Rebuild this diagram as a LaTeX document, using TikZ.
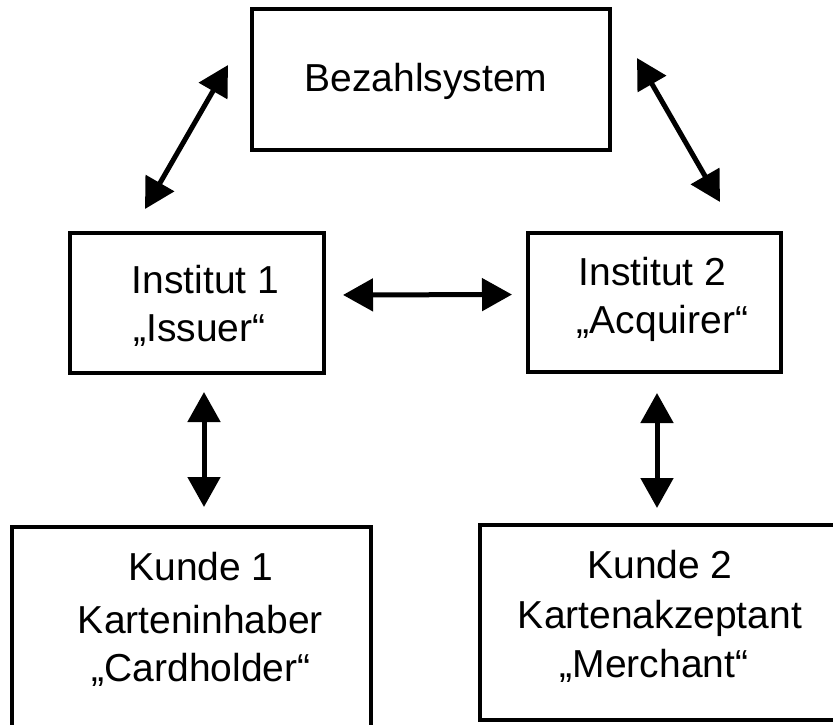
\documentclass[tikz,border=0pt]{standalone}
\usepackage{fontspec}
\setmainfont{Liberation Sans}
\usetikzlibrary{arrows.meta}
\tikzset{
  box/.style={draw=black, line width=4pt, rectangle, inner sep=0pt, outer sep=0pt},
  lbl/.style={anchor=base, inner sep=0pt, font=\fontsize{39}{47}\selectfont},
  arr/.style={line width=5pt, {Triangle[length=30pt,width=32pt]}-{Triangle[length=30pt,width=32pt]}},
}
\begin{document}
\begin{tikzpicture}[x=1pt,y=-1pt]
\useasboundingbox (0,0) rectangle (833,724);
\clip (0,0) rectangle (833,724);
\fill[white] (0,0) rectangle (833,724);
% boxes
\node[box, minimum width=358pt, minimum height=141pt] (B)  at (431,79.5) {};
\node[box, minimum width=254pt, minimum height=140pt] (I1) at (197,303) {};
\node[box, minimum width=253pt, minimum height=139pt] (I2) at (654.5,302.5) {};
\node[box, minimum width=359pt, minimum height=213pt] (K1) at (191.5,633.5) {};
\node[box, minimum width=380pt, minimum height=195pt] (K2) at (670,622.5) {};
% texts
\node[lbl] (Bt) at (426,91) {Bezahlsystem};
\node[lbl] (I1a) at (205.5,293) {Institut 1};
\node[lbl] (I1b) at (199.5,341) {„Issuer“};
\node[lbl] (I2a) at (652.5,285) {Institut 2};
\node[lbl] (I2b) at (662.5,333) {„Acquirer“};
\node[lbl] (K1a) at (201,580) {Kunde 1};
\node[lbl] (K1b) at (200.5,633) {Karteninhaber};
\node[lbl] (K1c) at (201,681) {„Cardholder“};
\node[lbl] (K2a) at (660,578) {Kunde 2};
\node[lbl] (K2b) at (660,628) {Kartenakzeptant};
\node[lbl] (K2c) at (654,677) {„Merchant“};
% arrow end points for the diagonals
\coordinate (a1s) at (228,65);
\coordinate (a1e) at (145,209);
\coordinate (a2s) at (637,58);
\coordinate (a2e) at (720,202);
% connectors
\draw[arr] (a1s) -- (a1e);
\draw[arr] (a2s) -- (a2e);
\draw[arr, shorten <=19pt, shorten >=16pt] ([yshift=8pt]I1.east) -- ([yshift=8pt]I2.west);
\draw[arr, shorten <=19pt, shorten >=20pt] ([xshift=7pt]I1.south) -- ([xshift=12.5pt]K1.north);
\draw[arr, shorten <=21pt, shorten >=17pt] ([xshift=2.5pt]I2.south) -- ([xshift=-13pt]K2.north);
\end{tikzpicture}
\end{document}
